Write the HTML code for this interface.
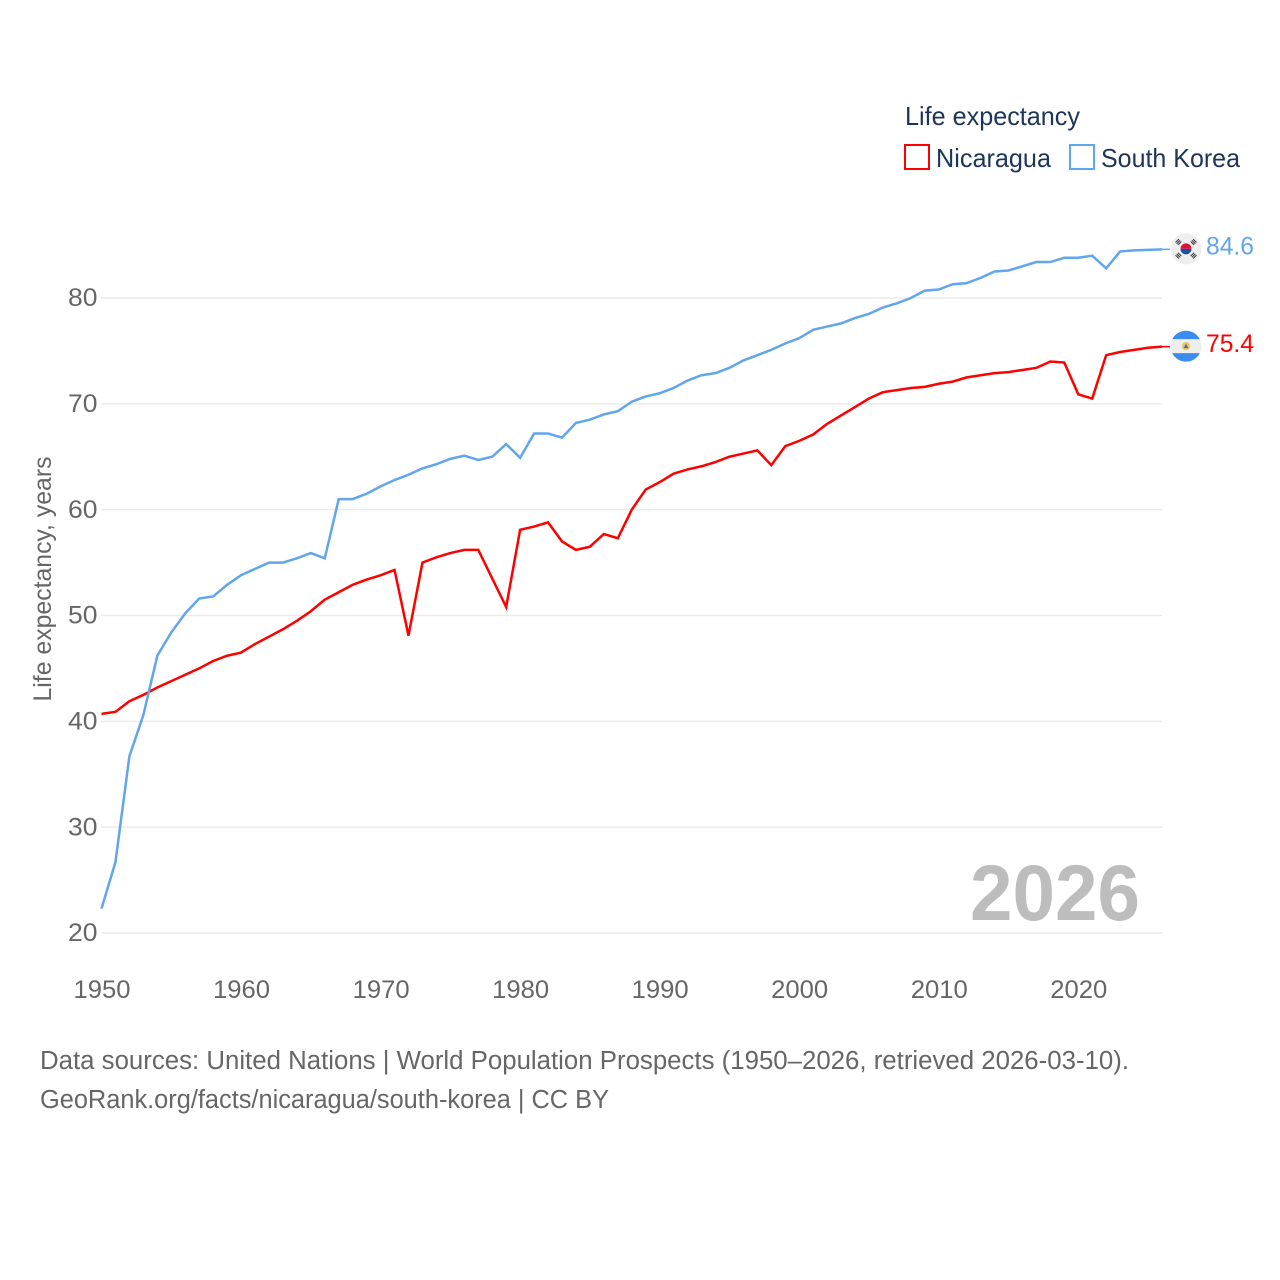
<!DOCTYPE html>
<html lang="en">
<head>
<meta charset="utf-8">
<title>Life expectancy: Nicaragua and South Korea</title>
<style>
html,body{margin:0;padding:0;background:#fff;width:1280px;height:1280px;overflow:hidden}
svg{display:block}
text{font-family:"Liberation Sans",sans-serif}
</style>
</head>
<body>
<svg id="chart" xmlns="http://www.w3.org/2000/svg" width="1280" height="1280" viewBox="0 0 1280 1280">
  <rect x="0" y="0" width="1280" height="1280" fill="#fff"/>
  <g id="grid"></g>
  <g id="yticks"></g>
  <g id="xticks"></g>
  <text transform="translate(51,579) rotate(-90)" text-anchor="middle" font-size="25" fill="#666" textLength="245" lengthAdjust="spacingAndGlyphs">Life expectancy, years</text>
  <text x="970" y="920" font-size="79" font-weight="700" fill="#bdbdbd" textLength="170" lengthAdjust="spacingAndGlyphs">2026</text>
  <g id="series"></g>
  <g id="flag-kr"></g>
  <g id="flag-ni"></g>
  <g>
    <text x="905" y="125" font-size="26" fill="#1d3557" textLength="175" lengthAdjust="spacingAndGlyphs">Life expectancy</text>
    <rect x="905" y="145" width="24" height="24" fill="#fff" stroke="#ff0000" stroke-width="2"/>
    <text x="936" y="167" font-size="26" fill="#1d3557" textLength="115" lengthAdjust="spacingAndGlyphs">Nicaragua</text>
    <rect x="1070" y="145" width="24" height="24" fill="#fff" stroke="#60a5ee" stroke-width="2"/>
    <text x="1101" y="167" font-size="26" fill="#1d3557" textLength="139" lengthAdjust="spacingAndGlyphs">South Korea</text>
  </g>
  <text x="40" y="1069" font-size="25.5" fill="#666" textLength="1089" lengthAdjust="spacingAndGlyphs">Data sources: United Nations | World Population Prospects (1950–2026, retrieved 2026-03-10).</text>
  <text x="40" y="1108" font-size="25.5" fill="#666" textLength="569" lengthAdjust="spacingAndGlyphs">GeoRank.org/facts/nicaragua/south-korea | CC BY</text>
</svg>
<script>
const years = [1950,1951,1952,1953,1954,1955,1956,1957,1958,1959,1960,1961,1962,1963,1964,1965,1966,1967,1968,1969,1970,1971,1972,1973,1974,1975,1976,1977,1978,1979,1980,1981,1982,1983,1984,1985,1986,1987,1988,1989,1990,1991,1992,1993,1994,1995,1996,1997,1998,1999,2000,2001,2002,2003,2004,2005,2006,2007,2008,2009,2010,2011,2012,2013,2014,2015,2016,2017,2018,2019,2020,2021,2022,2023,2024,2025,2026];
const nicaragua = [40.7,40.9,41.9,42.5,43.2,43.8,44.4,45.0,45.7,46.2,46.5,47.3,48.0,48.7,49.5,50.4,51.5,52.2,52.9,53.4,53.8,54.3,48.1,55.0,55.5,55.9,56.2,56.2,53.5,50.8,58.1,58.4,58.8,57.0,56.2,56.5,57.7,57.3,60.0,61.9,62.6,63.4,63.8,64.1,64.5,65.0,65.3,65.6,64.2,66.0,66.5,67.1,68.1,68.9,69.7,70.5,71.1,71.3,71.5,71.6,71.9,72.1,72.5,72.7,72.9,73.0,73.2,73.4,74.0,73.9,70.9,70.5,74.6,74.9,75.1,75.3,75.4];
const southKorea = [22.3,26.7,36.7,40.6,46.2,48.4,50.2,51.6,51.8,52.9,53.8,54.4,55.0,55.0,55.4,55.9,55.4,61.0,61.0,61.5,62.2,62.8,63.3,63.9,64.3,64.8,65.1,64.7,65.0,66.2,64.9,67.2,67.2,66.8,68.2,68.5,69.0,69.3,70.2,70.7,71.0,71.5,72.2,72.7,72.9,73.4,74.1,74.6,75.1,75.7,76.2,77.0,77.3,77.6,78.1,78.5,79.1,79.5,80.0,80.7,80.8,81.3,81.4,81.9,82.5,82.6,83.0,83.4,83.4,83.8,83.8,84.0,82.8,84.4,84.5,84.55,84.6];
const yTickValues = [20,30,40,50,60,70,80];
const xTickValues = [1950,1960,1970,1980,1990,2000,2010,2020];

const NS = 'http://www.w3.org/2000/svg';
function xScale(year){ return 101.5 + (year - 1950) * (1162 - 101.5) / 76; }
function yScale(v){ return 933 - (v - 20) * (933 - 298) / 60; }
function make(tag, attrs, parent){
  const el = document.createElementNS(NS, tag);
  for (const k in attrs) el.setAttribute(k, attrs[k]);
  parent.appendChild(el);
  return el;
}

const grid = document.getElementById('grid');
const yticks = document.getElementById('yticks');
yTickValues.forEach(function(v){
  const line = make('line', {x1:101, x2:1162, y1:yScale(v), y2:yScale(v), stroke:'#ebebeb', 'stroke-width':1.5}, grid);
  
  
  const t = make('text', {x:97.5, y:yScale(v)+8.2, 'text-anchor':'end', 'font-size':25, fill:'#666', textLength:29.5, lengthAdjust:'spacingAndGlyphs'}, yticks);
  
  
  t.textContent = v;
});

const xticks = document.getElementById('xticks');
xTickValues.forEach(function(y){
  const t = make('text', {x:xScale(y)-28, y:998, 'font-size':25, fill:'#666', textLength:57, lengthAdjust:'spacingAndGlyphs'}, xticks);
  
  
  t.textContent = y;
});

const seriesGroup = document.getElementById('series');
function drawSeries(values, color, name){
  const pts = values.map(function(v, i){ return xScale(years[i]).toFixed(2) + ',' + yScale(v).toFixed(2); }).join(' ');
  const p = make('polyline', {points:pts, fill:'none', stroke:color, 'stroke-width':2.5, 'stroke-linejoin':'miter'}, seriesGroup);
  
  
  const last = values[values.length - 1];
  const c = make('line', {x1:xScale(years[years.length-1]), x2:1170, y1:yScale(last), y2:yScale(last), stroke:color, 'stroke-width':1.5}, seriesGroup);
  
  
  const t = make('text', {x:1206, y:yScale(last)+5.3, 'font-size':25, fill:color, textLength:48, lengthAdjust:'spacingAndGlyphs'}, seriesGroup);
  
  
  t.textContent = last.toFixed(1);
}
drawSeries(nicaragua, '#ff0000', 'nicaragua-line');
drawSeries(southKorea, '#60a5ee', 'south-korea-line');

// South Korea flag
(function(){
  const g = document.getElementById('flag-kr');
  const cx = 1186, cy = yScale(southKorea[southKorea.length-1]) - 0.5;
  make('circle', {cx:cx, cy:cy, r:15.5, fill:'#eeeeee'}, g);
  make('path', {d:'M'+(cx-5.5)+' '+cy+'a5.5 5.5 0 0 1 11 0z', fill:'#d8123a'}, g);
  make('path', {d:'M'+(cx-5.5)+' '+cy+'a5.5 5.5 0 0 0 11 0z', fill:'#1f4ea8'}, g);
  [[-1,-1],[1,-1],[-1,1],[1,1]].forEach(function(s){
    const ax = cx + s[0]*7.6, ay = cy + s[1]*6.8;
    const rot = s[0]*s[1] > 0 ? -45 : 45;
    [-1.7,0,1.7].forEach(function(o){
      make('rect', {x:ax-2.4, y:ay+o-0.5, width:4.8, height:1, fill:'#333', transform:'rotate('+rot+' '+ax+' '+ay+')'}, g);
    });
  });
})();

// Nicaragua flag
(function(){
  const g = document.getElementById('flag-ni');
  const cx = 1186, cy = yScale(nicaragua[nicaragua.length-1]) - 0.5;
  make('circle', {cx:cx, cy:cy, r:15.5, fill:'#eeeeee'}, g);
  make('path', {d:'M'+(cx-13.8)+' '+(cy-7)+'A15.5 15.5 0 0 1 '+(cx+13.8)+' '+(cy-7)+'z', fill:'#3b8cf0'}, g);
  make('path', {d:'M'+(cx-13.8)+' '+(cy+7)+'A15.5 15.5 0 0 0 '+(cx+13.8)+' '+(cy+7)+'z', fill:'#3b8cf0'}, g);
  make('circle', {cx:cx, cy:cy, r:4.2, fill:'#e8c85f'}, g);
  make('path', {d:'M'+(cx-2.4)+' '+(cy+2)+'L'+cx+' '+(cy-2.4)+'L'+(cx+2.4)+' '+(cy+2)+'z', fill:'#3d6fb0'}, g);
})();
</script>
</body>
</html>
